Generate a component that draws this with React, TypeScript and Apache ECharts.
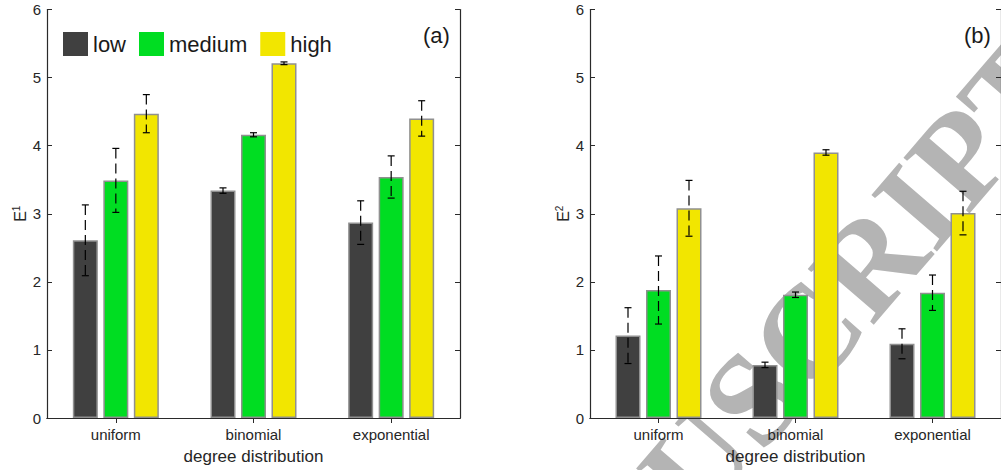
import React, { useEffect, useRef } from "react";
import * as echarts from "echarts";

const categories = ["uniform", "binomial", "exponential"];
const seriesNames = ["low", "medium", "high"];
const colors = ["#404040", "#00dd22", "#f2e600"];

// panel (a): E^1
const aLow = [2.61, 3.34, 2.87];
const aLowErr = [0.52, 0.04, 0.32];
const aMed = [3.49, 4.16, 3.54];
const aMedErr = [0.47, 0.03, 0.31];
const aHigh = [4.47, 5.21, 4.4];
const aHighErr = [0.28, 0.02, 0.26];

// panel (b): E^2
const bLow = [1.21, 0.78, 1.09];
const bLowErr = [0.41, 0.04, 0.22];
const bMed = [1.88, 1.81, 1.84];
const bMedErr = [0.5, 0.04, 0.26];
const bHigh = [3.08, 3.9, 3.01];
const bHighErr = [0.41, 0.04, 0.32];

const yTicks = [0, 1, 2, 3, 4, 5, 6];

const BAR_W = 25;
const BAR_GAP = 0.22;
const FONT = "'Liberation Sans', Arial, sans-serif";
const AXIS_COLOR = "#2a2a2a";

function errData(vals: number[][], errs: number[][]) {
  const out: number[][] = [];
  vals.forEach((v, s) => {
    v.forEach((val, c) => {
      out.push([c, s, val - errs[s][c], val + errs[s][c]]);
    });
  });
  return out;
}

export default function App() {
  const ref = useRef<HTMLDivElement>(null);
  useEffect(() => {
    if (!ref.current) return;
    const chart = echarts.init(ref.current, null, { renderer: "svg" });
    const step = BAR_W * (1 + BAR_GAP);

    const renderErr = (params: any, api: any) => {
      const c = api.value(0);
      const s = api.value(1);
      const lo = api.coord([c, api.value(2)]);
      const hi = api.coord([c, api.value(3)]);
      const x = lo[0] + (s - 1) * step;
      const cap = 3.5;
      const st = { stroke: "#000", lineWidth: 1.2 };
      return {
        type: "group",
        children: [
          {
            type: "line",
            shape: { x1: x, y1: hi[1], x2: x, y2: lo[1] },
            style: { ...st, lineDash: [10, 5] },
          },
          { type: "line", shape: { x1: x - cap, y1: hi[1], x2: x + cap, y2: hi[1] }, style: st },
          { type: "line", shape: { x1: x - cap, y1: lo[1], x2: x + cap, y2: lo[1] }, style: st },
        ],
      };
    };

    const panels = [
      { vals: [aLow, aMed, aHigh], errs: [aLowErr, aMedErr, aHighErr], sup: "1" },
      { vals: [bLow, bMed, bHigh], errs: [bLowErr, bMedErr, bHighErr], sup: "2" },
    ];

    const grids = [
      { left: 47, top: 9.5, width: 413, height: 412.5 },
      { left: 590, top: 9.5, width: 413, height: 412.5 },
    ];

    const xAxes: any[] = [];
    const yAxes: any[] = [];
    const series: any[] = [];

    panels.forEach((p, gi) => {
      xAxes.push({
        type: "category",
        gridIndex: gi,
        data: categories,
        position: "bottom",
        axisLine: { lineStyle: { color: AXIS_COLOR, width: 1.2 } },
        axisTick: { show: false },
        axisLabel: { fontSize: 15, color: "#262626", margin: 9, fontFamily: FONT },
        name: "degree distribution",
        nameLocation: "middle",
        nameGap: 30,
        nameTextStyle: { fontSize: 17, color: "#262626", fontFamily: FONT },
      });
      xAxes.push({
        type: "category",
        gridIndex: gi,
        data: categories,
        position: "top",
        axisLine: { lineStyle: { color: AXIS_COLOR, width: 1.2 } },
        axisTick: { show: true, inside: true, length: 5, alignWithLabel: true, lineStyle: { color: AXIS_COLOR } },
        axisLabel: { show: false },
      });
      yAxes.push({
        type: "value",
        gridIndex: gi,
        min: yTicks[0],
        max: yTicks[yTicks.length - 1],
        interval: 1,
        position: "left",
        axisLine: { show: true, lineStyle: { color: AXIS_COLOR, width: 1.2 } },
        axisTick: { show: true, inside: true, length: 5, lineStyle: { color: AXIS_COLOR } },
        axisLabel: { fontSize: 15, color: "#262626", margin: 6, fontFamily: FONT },
        splitLine: { show: false },
        name: "{e|E}{s|" + p.sup + "}",
        nameLocation: "middle",
        nameGap: 15,
        nameTextStyle: {
          fontFamily: FONT,
          color: "#262626",
          rich: {
            e: { fontSize: 16, fontFamily: FONT, color: "#262626" },
            s: { fontSize: 10, fontFamily: FONT, color: "#262626", padding: [0, 0, 9, 0] },
          },
        },
      });
      yAxes.push({
        type: "value",
        gridIndex: gi,
        min: yTicks[0],
        max: yTicks[yTicks.length - 1],
        interval: 1,
        position: "right",
        axisLine: { show: true, lineStyle: { color: AXIS_COLOR, width: 1.2 } },
        axisTick: { show: true, inside: true, length: 5, lineStyle: { color: AXIS_COLOR } },
        axisLabel: { show: false },
        splitLine: { show: false },
      });

      p.vals.forEach((v, s) => {
        series.push({
          type: "bar",
          name: seriesNames[s],
          xAxisIndex: gi * 2,
          yAxisIndex: gi * 2,
          data: v,
          barWidth: BAR_W,
          barGap: BAR_GAP * 100 + "%",
          itemStyle: { color: colors[s], borderColor: "#909090", borderWidth: 1.5 },
          z: 2,
        });
      });
      series.push({
        type: "custom",
        name: "err" + gi,
        xAxisIndex: gi * 2,
        yAxisIndex: gi * 2,
        data: errData(p.vals, p.errs),
        encode: { x: 0, y: [2, 3] },
        renderItem: renderErr,
        z: 5,
      });
    });

    chart.setOption({
      animation: false,
      backgroundColor: "#ffffff",
      textStyle: { fontFamily: FONT },
      grid: grids,
      xAxis: xAxes,
      yAxis: yAxes,
      series,
      legend: {
        data: seriesNames,
        left: 58,
        top: 27,
        itemWidth: 25,
        itemHeight: 24,
        itemGap: 13,
        icon: "rect",
        itemStyle: { borderWidth: 0 },
        textStyle: { fontSize: 22, color: "#1a1a1a", fontFamily: FONT },
      },
      graphic: [
        {
          type: "text",
          left: 423,
          top: 24,
          z: 10,
          style: { text: "(a)", fontSize: 22, fontFamily: FONT, fill: "#1a1a1a" },
        },
        {
          type: "text",
          left: 964,
          top: 24,
          z: 10,
          style: { text: "(b)", fontSize: 22, fontFamily: FONT, fill: "#1a1a1a" },
        },
        {
          type: "text",
          x: 752,
          y: 398,
          rotation: 0.86,
          z: -10,
          silent: true,
          style: {
            text: "MANUSCRIPT",
            fontSize: 132,
            fontWeight: "bold",
            fontFamily: "'Liberation Serif', 'DejaVu Serif', serif",
            fill: "#b4b4b4",
            align: "center",
            verticalAlign: "middle",
            textAlign: "center",
            textVerticalAlign: "middle",
          },
        },
      ],
    });
    return () => chart.dispose();
  }, []);
  return (
    <div
      ref={ref}
      style={{ position: "fixed", left: 0, top: 0, width: 1001, height: 470 }}
    />
  );
}
